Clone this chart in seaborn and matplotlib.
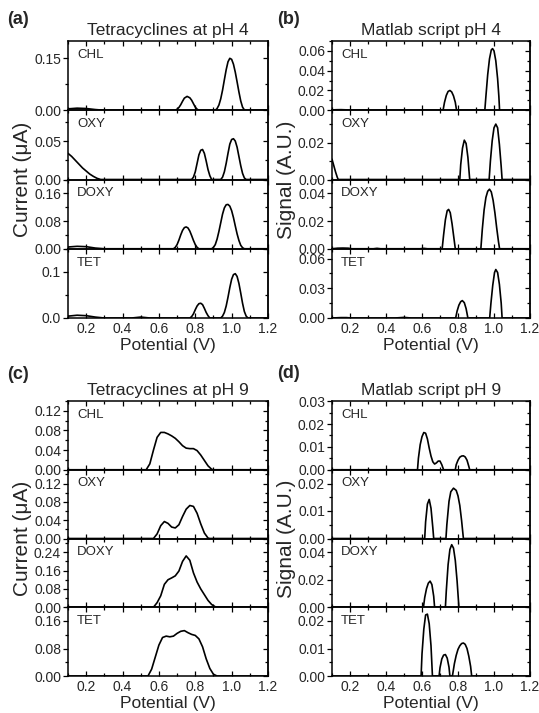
import numpy as np
import pandas as pd
import matplotlib
matplotlib.use("Agg")
import matplotlib.pyplot as plt
import seaborn as sns
from matplotlib.ticker import MultipleLocator, FormatStrFormatter

# ---- (a) Tetracyclines at pH 4, current (uA) vs potential (V)
a_chl_v = [0.10, 0.15, 0.20, 0.25, 0.30, 0.69, 0.70, 0.71, 0.72, 0.73, 0.74, 0.755, 0.77, 0.78, 0.79, 0.80, 0.81, 0.82,
           0.91, 0.92, 0.93, 0.94, 0.95, 0.96, 0.97, 0.98, 0.99, 1.00, 1.01, 1.02, 1.03, 1.04, 1.05, 1.06, 1.07, 1.08, 1.20]
a_chl_i = [0.004, 0.006, 0.005, 0.002, 0.0, 0.0, 0.003, 0.008, 0.016, 0.026, 0.035, 0.040, 0.036, 0.029, 0.019, 0.009, 0.003, 0.0,
           0.0, 0.005, 0.015, 0.033, 0.058, 0.088, 0.117, 0.140, 0.150, 0.147, 0.133, 0.110, 0.082, 0.053, 0.027, 0.009, 0.001, 0.0, 0.0]
a_oxy_v = [0.10, 0.12, 0.14, 0.16, 0.18, 0.20, 0.22, 0.24, 0.26, 0.28, 0.78, 0.79, 0.80, 0.81, 0.82, 0.83, 0.84, 0.85, 0.86, 0.87,
           0.88, 0.89, 0.94, 0.95, 0.96, 0.97, 0.98, 0.99, 1.00, 1.01, 1.02, 1.03, 1.04, 1.05, 1.06, 1.07, 1.08, 1.20]
a_oxy_i = [0.034, 0.030, 0.025, 0.020, 0.015, 0.011, 0.007, 0.004, 0.0015, 0.0, 0.0, 0.003, 0.010, 0.021, 0.032, 0.038, 0.039,
           0.034, 0.024, 0.013, 0.005, 0.0, 0.0, 0.003, 0.010, 0.021, 0.034, 0.046, 0.052, 0.053, 0.050, 0.042, 0.030, 0.018,
           0.008, 0.002, 0.0, 0.0]
a_doxy_v = [0.10, 0.15, 0.20, 0.25, 0.30, 0.68, 0.69, 0.70, 0.71, 0.72, 0.73, 0.74, 0.75, 0.76, 0.77, 0.78, 0.79, 0.80, 0.81, 0.82,
            0.89, 0.90, 0.91, 0.92, 0.93, 0.94, 0.95, 0.96, 0.97, 0.98, 0.99, 1.00, 1.01, 1.02, 1.03, 1.04, 1.05, 1.06, 1.07, 1.20]
a_doxy_i = [0.005, 0.007, 0.006, 0.002, 0.0, 0.0, 0.004, 0.012, 0.025, 0.040, 0.053, 0.061, 0.063, 0.060, 0.051, 0.038, 0.024,
            0.012, 0.004, 0.0, 0.0, 0.004, 0.012, 0.028, 0.050, 0.075, 0.100, 0.118, 0.127, 0.128, 0.123, 0.110, 0.090, 0.066,
            0.043, 0.024, 0.010, 0.003, 0.0, 0.0]
a_tet_v = [0.10, 0.15, 0.20, 0.25, 0.30, 0.45, 0.50, 0.55, 0.77, 0.78, 0.79, 0.80, 0.81, 0.82, 0.83, 0.84, 0.85, 0.86, 0.87, 0.88,
           0.94, 0.95, 0.96, 0.97, 0.98, 0.99, 1.00, 1.01, 1.02, 1.03, 1.04, 1.05, 1.06, 1.07, 1.08, 1.09, 1.20]
a_tet_i = [0.004, 0.006, 0.005, 0.002, 0.0, 0.0, 0.002, 0.0, 0.0, 0.003, 0.009, 0.018, 0.026, 0.031, 0.032, 0.029, 0.021, 0.012,
           0.005, 0.0, 0.0, 0.004, 0.012, 0.026, 0.045, 0.066, 0.084, 0.094, 0.096, 0.090, 0.075, 0.054, 0.032, 0.014, 0.004,
           0.0, 0.0]

# ---- (b) Matlab script pH 4, signal (A.U.)
b_chl_v = [0.10, 0.12, 0.15, 0.18, 0.20, 0.717, 0.725, 0.735, 0.745, 0.755, 0.765, 0.775, 0.785, 0.792,
           0.949, 0.955, 0.965, 0.975, 0.985, 0.992, 1.000, 1.010, 1.020, 1.027, 1.031, 1.20]
b_chl_s = [0.0003, 0.0005, 0.0006, 0.0004, 0.0, 0.0, 0.008, 0.015, 0.019, 0.020, 0.0185, 0.0145, 0.008, 0.0,
           0.0, 0.014, 0.036, 0.052, 0.061, 0.0623, 0.060, 0.050, 0.032, 0.014, 0.0, 0.0]
b_oxy_v = [0.10, 0.11, 0.12, 0.13, 0.135, 0.81, 0.815, 0.825, 0.835, 0.845, 0.855, 0.865,
           0.973, 0.98, 0.99, 1.00, 1.01, 1.02, 1.03, 1.04, 1.045, 1.20]
b_oxy_s = [0.011, 0.0075, 0.004, 0.001, 0.0, 0.0, 0.008, 0.017, 0.0213, 0.0195, 0.012, 0.0,
           0.0, 0.010, 0.021, 0.028, 0.030, 0.028, 0.019, 0.007, 0.0, 0.0]
b_doxy_v = [0.10, 0.13, 0.16, 0.19, 0.21, 0.33, 0.35, 0.37, 0.59, 0.61, 0.63, 0.712, 0.72, 0.73, 0.74, 0.748, 0.757, 0.767,
            0.777, 0.785, 0.927, 0.935, 0.945, 0.955, 0.965, 0.975, 0.985, 0.995, 1.005, 1.015, 1.025, 1.031, 1.20]
b_doxy_s = [0.0, 0.0004, 0.0005, 0.0004, 0.0, 0.0, 0.0003, 0.0, 0.0, 0.0003, 0.0, 0.0, 0.010, 0.021, 0.0275, 0.0284, 0.026,
            0.018, 0.008, 0.0, 0.0, 0.014, 0.028, 0.037, 0.0415, 0.043, 0.041, 0.035, 0.026, 0.015, 0.005, 0.0, 0.0]
b_tet_v = [0.10, 0.15, 0.18, 0.21, 0.45, 0.50, 0.54, 0.787, 0.795, 0.805, 0.815, 0.824, 0.835, 0.845, 0.855,
           0.976, 0.983, 0.993, 1.003, 1.010, 1.020, 1.030, 1.040, 1.045, 1.20]
b_tet_s = [0.0, 0.0004, 0.0004, 0.0, 0.0, 0.0006, 0.0, 0.0, 0.007, 0.013, 0.0165, 0.0176, 0.0155, 0.0095, 0.0,
           0.0, 0.015, 0.033, 0.046, 0.049, 0.046, 0.034, 0.015, 0.0, 0.0]

# ---- (c) Tetracyclines at pH 9, current (uA)
c_chl_v = [0.10, 0.53, 0.55, 0.57, 0.59, 0.61, 0.63, 0.65, 0.67, 0.69, 0.71, 0.73, 0.75, 0.77, 0.79, 0.81, 0.83, 0.85,
           0.87, 0.89, 0.90, 1.20]
c_chl_i = [0.0, 0.0, 0.012, 0.040, 0.066, 0.076, 0.076, 0.073, 0.069, 0.064, 0.057, 0.049, 0.044, 0.043, 0.043, 0.039,
           0.030, 0.019, 0.008, 0.001, 0.0, 0.0]
c_oxy_v = [0.10, 0.57, 0.59, 0.61, 0.63, 0.65, 0.67, 0.69, 0.71, 0.73, 0.75, 0.77, 0.79, 0.81, 0.83, 0.85, 0.87, 0.88, 1.20]
c_oxy_i = [0.0, 0.0, 0.010, 0.028, 0.037, 0.033, 0.025, 0.023, 0.030, 0.048, 0.064, 0.072, 0.070, 0.055, 0.032, 0.012,
           0.001, 0.0, 0.0]
c_doxy_v = [0.10, 0.57, 0.59, 0.61, 0.63, 0.65, 0.67, 0.69, 0.71, 0.73, 0.75, 0.77, 0.79, 0.81, 0.83, 0.85, 0.87, 0.89,
            0.91, 0.92, 1.20]
c_doxy_i = [0.0, 0.0, 0.020, 0.050, 0.100, 0.120, 0.128, 0.137, 0.158, 0.200, 0.224, 0.205, 0.150, 0.110, 0.080, 0.055,
            0.030, 0.012, 0.002, 0.0, 0.0]
c_tet_v = [0.10, 0.54, 0.56, 0.58, 0.60, 0.62, 0.64, 0.66, 0.68, 0.70, 0.72, 0.74, 0.76, 0.78, 0.80, 0.82, 0.84, 0.86,
           0.88, 0.90, 0.92, 1.20]
c_tet_i = [0.0, 0.0, 0.020, 0.055, 0.090, 0.112, 0.116, 0.114, 0.116, 0.124, 0.130, 0.132, 0.126, 0.121, 0.118, 0.108,
           0.085, 0.050, 0.022, 0.005, 0.0, 0.0]

# ---- (d) Matlab script pH 9, signal (A.U.)
d_chl_v = [0.10, 0.575, 0.58, 0.59, 0.60, 0.61, 0.62, 0.63, 0.64, 0.65, 0.66, 0.67, 0.68, 0.69, 0.70, 0.71, 0.72,
           0.785, 0.79, 0.80, 0.81, 0.82, 0.83, 0.84, 0.85, 0.86, 0.865, 1.20]
d_chl_s = [0.0, 0.0, 0.005, 0.011, 0.0145, 0.0163, 0.016, 0.0135, 0.0095, 0.006, 0.0035, 0.0025, 0.003, 0.0038, 0.0038,
           0.0022, 0.0, 0.0, 0.0022, 0.0042, 0.0055, 0.006, 0.0061, 0.0056, 0.0042, 0.0015, 0.0, 0.0]
d_oxy_v = [0.10, 0.615, 0.62, 0.63, 0.64, 0.65, 0.66, 0.665, 0.733, 0.738, 0.75, 0.76, 0.775, 0.79, 0.80, 0.81, 0.82,
           0.83, 1.20]
d_oxy_s = [0.0, 0.0, 0.006, 0.0125, 0.0142, 0.011, 0.004, 0.0, 0.0, 0.005, 0.0135, 0.017, 0.0183, 0.0175, 0.0155, 0.012,
           0.0065, 0.0, 0.0]
d_doxy_v = [0.10, 0.608, 0.615, 0.625, 0.635, 0.645, 0.655, 0.665, 0.67, 0.73, 0.735, 0.745, 0.755, 0.765, 0.775, 0.785,
            0.795, 0.805, 1.20]
d_doxy_s = [0.0, 0.0, 0.007, 0.0135, 0.0175, 0.019, 0.0165, 0.008, 0.0, 0.0, 0.012, 0.031, 0.042, 0.0455, 0.043, 0.034,
            0.019, 0.0, 0.0]
d_tet_v = [0.10, 0.595, 0.60, 0.61, 0.62, 0.63, 0.64, 0.65, 0.658, 0.695, 0.70, 0.71, 0.72, 0.73, 0.74, 0.75, 0.755,
           0.769, 0.78, 0.79, 0.80, 0.81, 0.82, 0.83, 0.84, 0.85, 0.86, 0.87, 0.876, 1.20]
d_tet_s = [0.0, 0.0, 0.008, 0.017, 0.0222, 0.0225, 0.019, 0.011, 0.0, 0.0, 0.003, 0.0062, 0.0076, 0.0078, 0.0065, 0.0032,
           0.0, 0.0, 0.0045, 0.0075, 0.0097, 0.011, 0.0118, 0.012, 0.0115, 0.010, 0.0072, 0.0035, 0.0, 0.0]

names = ["CHL", "OXY", "DOXY", "TET"]

sns.set_style("ticks")
plt.rcParams['font.family'] = ['Liberation Sans', 'DejaVu Sans']

W, H = 539, 713
fig = plt.figure(figsize=(W / 100, H / 100), dpi=100)


def stack(left, top, bottom, width):
    h = (bottom - top) / 4
    axs = []
    for k in range(4):
        ax = fig.add_axes([left / W, 1 - (top + (k + 1) * h) / H, width / W, h / H])
        ax.patch.set_alpha(0)
        axs.append(ax)
    return axs


def style(ax, name, ymax, major, minor, fmt, last):
    ax.set_xlim(0.1, 1.2)
    ax.set_ylim(0, ymax)
    ax.xaxis.set_major_locator(MultipleLocator(0.2))
    ax.xaxis.set_minor_locator(MultipleLocator(0.1))
    ax.xaxis.set_major_formatter(FormatStrFormatter('%.1f'))
    ax.yaxis.set_major_locator(MultipleLocator(major))
    ax.yaxis.set_minor_locator(MultipleLocator(minor))
    ax.yaxis.set_major_formatter(FormatStrFormatter(fmt))
    ax.tick_params(axis='x', which='both', direction='in', top=True, bottom=True,
                   labelbottom=last, labelsize=10, pad=3, color='black')
    ax.tick_params(axis='y', which='both', direction='out', left=True, right=False,
                   labelsize=10, pad=1.5, color='black')
    ax.tick_params(which='major', length=3.5, width=0.9)
    ax.tick_params(which='minor', length=2, width=0.9)
    sec = ax.secondary_yaxis('right')
    sec.yaxis.set_major_locator(MultipleLocator(major))
    sec.yaxis.set_minor_locator(MultipleLocator(minor))
    sec.tick_params(which='both', direction='in', labelright=False, width=0.9, color='black')
    sec.tick_params(which='major', length=3.5)
    sec.tick_params(which='minor', length=2)
    for sp in ax.spines.values():
        sp.set_linewidth(1.1)
        sp.set_color('black')
    sec.spines['right'].set_linewidth(1.1)
    ax.set_xlabel('')
    ax.set_ylabel('')
    ax.text(0.045, 0.80, name, transform=ax.transAxes, fontsize=9.5, va='center', ha='left')
    if last:
        ax.set_xlabel('Potential (V)', fontsize=12.5, labelpad=1)


def draw(ax, v, y):
    df = pd.DataFrame({'v': v, 'y': y})
    sns.lineplot(data=df, x='v', y='y', ax=ax, color='black', linewidth=1.2, estimator=None, sort=False)


panels = [
    dict(left=68, width=200, top=41, bottom=318, letter='(a)', lx=7, ly=20, title='Tetracyclines at pH 4',
         ylabel='Current (μA)', ylx=23,
         data=[(a_chl_v, a_chl_i), (a_oxy_v, a_oxy_i), (a_doxy_v, a_doxy_i), (a_tet_v, a_tet_i)],
         ymax=[0.20, 0.09, 0.20, 0.15], major=[0.15, 0.05, 0.08, 0.1], minor=[0.075, 0.025, 0.04, 0.05],
         fmt=['%.2f', '%.2f', '%.2f', '%.1f']),
    dict(left=332, width=198, top=41, bottom=318, letter='(b)', lx=277, ly=20, title='Matlab script pH 4',
         ylabel='Signal (A.U.)', ylx=287,
         data=[(b_chl_v, b_chl_s), (b_oxy_v, b_oxy_s), (b_doxy_v, b_doxy_s), (b_tet_v, b_tet_s)],
         ymax=[0.07, 0.0375, 0.05, 0.07], major=[0.02, 0.02, 0.02, 0.03], minor=[0.01, 0.01, 0.01, 0.015],
         fmt=['%.2f'] * 4),
    dict(left=68, width=200, top=401, bottom=676, letter='(c)', lx=7, ly=375, title='Tetracyclines at pH 9',
         ylabel='Current (μA)', ylx=23,
         data=[(c_chl_v, c_chl_i), (c_oxy_v, c_oxy_i), (c_doxy_v, c_doxy_i), (c_tet_v, c_tet_i)],
         ymax=[0.14, 0.15, 0.30, 0.20], major=[0.04, 0.04, 0.08, 0.08], minor=[0.02, 0.02, 0.04, 0.04],
         fmt=['%.2f'] * 4),
    dict(left=332, width=198, top=401, bottom=676, letter='(d)', lx=277, ly=373, title='Matlab script pH 9',
         ylabel='Signal (A.U.)', ylx=287,
         data=[(d_chl_v, d_chl_s), (d_oxy_v, d_oxy_s), (d_doxy_v, d_doxy_s), (d_tet_v, d_tet_s)],
         ymax=[0.0301, 0.025, 0.05, 0.025], major=[0.01, 0.01, 0.02, 0.01], minor=[0.005, 0.005, 0.01, 0.005],
         fmt=['%.2f'] * 4),
]

for p in panels:
    axs = stack(p['left'], p['top'], p['bottom'], p['width'])
    for k, ax in enumerate(axs):
        v, y = p['data'][k]
        draw(ax, v, y)
        style(ax, names[k], p['ymax'][k], p['major'][k], p['minor'][k], p['fmt'][k], k == 3)
    axs[0].set_title(p['title'], fontsize=12.5, pad=4)
    fig.text(p['lx'] / W, 1 - p['ly'] / H, p['letter'], fontsize=13, fontweight='bold', ha='left', va='center')
    fig.text(p['ylx'] / W, 1 - (p['top'] + p['bottom']) / 2 / H, p['ylabel'], rotation=90,
             fontsize=15, ha='center', va='center')

fig.savefig('out.png', dpi=100, facecolor='white')
